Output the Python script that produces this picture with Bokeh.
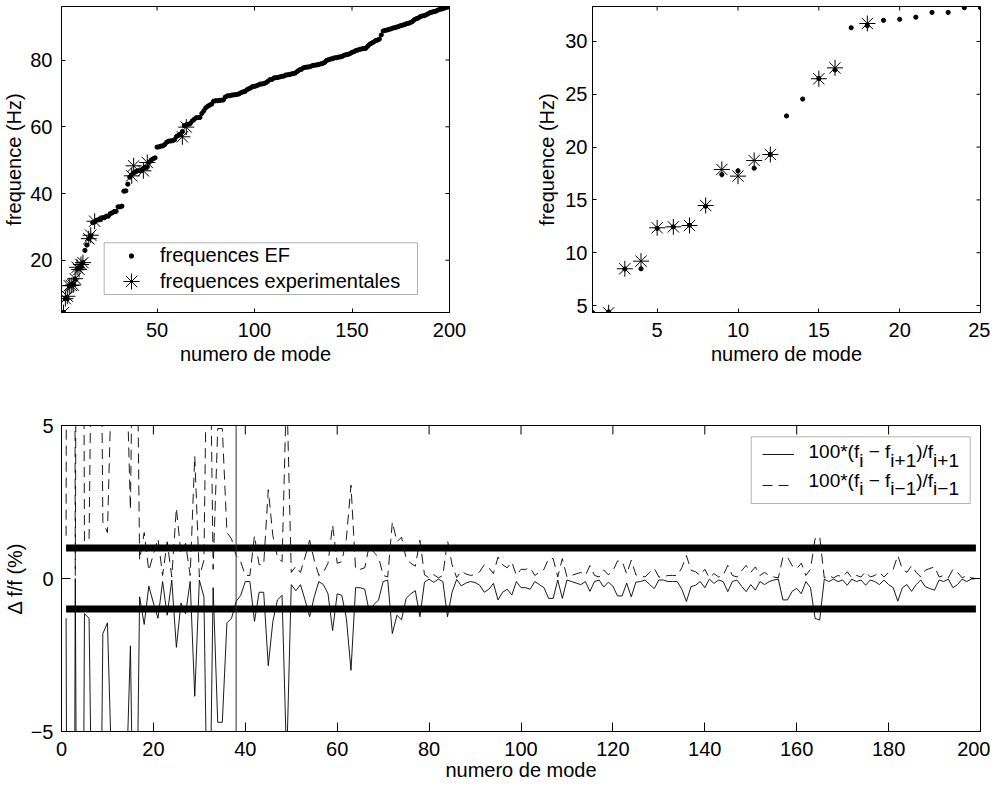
from bokeh.plotting import figure
from bokeh.models import (Range1d, FixedTicker, Legend, LegendItem,
                          Span, Label, BoxAnnotation)
from bokeh.layouts import column, row
from bokeh.embed import file_html
from bokeh.resources import INLINE

FONT = "Liberation Sans"

# ---------------- data ----------------
ef_modes = list(range(1, 201))
ef_freq = [
    4.34, 4.40, 8.46, 8.48, 12.30, 12.45, 12.60, 14.40, 17.40, 17.75,
    18.00, 19.30, 22.95, 24.55, 26.50, 27.30, 31.30, 31.50, 32.00, 32.10,
    32.30, 32.75, 32.75, 33.20, 33.20, 33.95, 34.20, 34.60, 34.65, 36.00,
    36.00, 36.20, 40.70, 40.80, 42.80, 44.90, 45.60, 46.20, 46.50, 46.80,
    46.85, 46.90, 47.55, 47.75, 47.95, 49.35, 50.05, 50.40, 50.70, 53.90,
    54.00, 54.20, 54.30, 54.70, 55.40, 55.70, 55.75, 55.85, 56.15, 57.10,
    57.45, 57.75, 58.55, 60.35, 60.60, 60.75, 60.95, 61.70, 62.20, 62.70,
    62.75, 62.80, 64.00, 64.80, 65.70, 66.15, 66.50, 66.80, 67.65, 67.80,
    67.80, 67.90, 67.95, 68.05, 68.90, 69.25, 69.30, 69.45, 69.55, 69.60,
    69.70, 69.85, 70.20, 70.45, 70.55, 71.05, 71.40, 71.65, 72.05, 72.10,
    72.30, 72.55, 72.80, 72.85, 73.00, 73.25, 73.70, 74.15, 74.20, 74.65,
    74.70, 74.80, 74.95, 75.10, 75.20, 75.50, 75.60, 75.65, 75.85, 75.95,
    76.15, 76.60, 77.05, 77.20, 77.65, 77.80, 77.90, 77.95, 78.15, 78.40,
    78.45, 78.55, 78.70, 78.85, 79.00, 79.30, 79.90, 80.10, 80.30, 80.40,
    80.65, 80.70, 80.85, 80.95, 81.10, 81.45, 81.60, 81.70, 81.95, 82.30,
    82.50, 82.85, 83.00, 83.20, 83.35, 83.45, 83.50, 84.10, 84.70, 85.05,
    85.35, 85.80, 85.95, 86.25, 87.50, 88.70, 88.90, 89.00, 89.20, 89.35,
    89.60, 89.70, 89.90, 90.05, 90.35, 90.45, 90.65, 90.90, 91.00, 91.25,
    91.55, 92.10, 92.40, 92.60, 93.00, 93.20, 93.30, 93.55, 93.85, 94.20,
    94.35, 94.55, 94.65, 94.95, 95.20, 95.30, 95.50, 95.70, 95.90, 96.00,
]

exp_modes = [2, 3, 4, 5, 6, 7, 8, 9, 10, 11, 12, 15, 16, 18, 37, 38, 43, 45, 63, 65]
exp_freq = [4.31, 8.48, 9.20, 12.36, 12.45, 12.58, 14.47, 17.88, 17.25, 18.73,
            19.30, 26.47, 27.50, 31.70, 45.30, 48.30, 46.80, 49.30, 57.00, 59.90]

# 100*(f_i - f_{i+1})/f_{i+1}
next_modes = list(range(1, 201))
rel_next = [
    -1.3, -48.0, 0.0, -31.0, -1.15, -1.3, -12.5, -17.0, -1.8, -1.45,
    -6.7, -16.0, -6.5, -7.2, -2.2, -12.8, -0.6, -1.5, -0.25, -0.8,
    -1.3, -0.1, -1.2, -0.05, -2.25, -0.8, -1.15, -0.1, -3.85, -0.05,
    -0.6, -11.0, -0.3, -4.7, -4.7, -1.45, -1.3, -0.75, -0.55, -0.1,
    -0.1, -1.4, -0.45, -0.45, -2.85, -1.4, -0.7, -0.55, -6.0, -0.2,
    -0.4, -0.2, -0.7, -1.25, -0.6, -0.1, -0.2, -0.5, -1.7, -0.5,
    -0.55, -1.3, -3.0, -0.3, -0.3, -0.35, -1.1, -0.85, -0.7, -0.1,
    -0.05, -1.8, -1.2, -1.35, -0.65, -0.5, -0.4, -1.25, -0.12, -0.02,
    -0.13, -0.02, -0.1, -1.25, -0.45, -0.03, -0.24, -0.15, -0.1, -0.13,
    -0.22, -0.45, -0.35, -0.16, -0.7, -0.45, -0.35, -0.54, -0.1, -0.3,
    -0.3, -0.35, -0.1, -0.2, -0.3, -0.65, -0.65, -0.05, -0.65, -0.05,
    -0.1, -0.15, -0.2, -0.1, -0.42, -0.1, -0.05, -0.28, -0.12, -0.25,
    -0.57, -0.57, -0.15, -0.6, -0.12, -0.1, -0.05, -0.2, -0.33, -0.05,
    -0.05, -0.1, -0.1, -0.1, -0.35, -0.75, -0.27, -0.22, -0.1, -0.3,
    -0.02, -0.16, -0.05, -0.1, -0.43, -0.1, -0.05, -0.25, -0.43, -0.2,
    -0.38, -0.1, -0.2, -0.1, -0.05, -0.02, -0.7, -0.7, -0.42, -0.32,
    -0.5, -0.1, -0.3, -1.3, -1.36, -0.02, -0.1, -0.02, -0.1, -0.05,
    -0.22, -0.02, -0.1, -0.05, -0.22, -0.05, -0.1, -0.2, -0.05, -0.2,
    -0.3, -0.74, -0.3, -0.2, -0.42, -0.2, -0.05, -0.27, -0.33, -0.38,
    -0.05, -0.1, -0.02, -0.3, -0.2, -0.02, -0.1, -0.02, 0.0, 0.0,
]

# 100*(f_i - f_{i-1})/f_{i-1}
prev_modes = list(range(1, 200))
rel_prev = [
    1.4, 92.0, 0.1, 45.0, 1.2, 1.3, 14.3, 20.8, 1.85, 1.5,
    7.2, 19.0, 7.0, 7.8, 2.25, 14.7, 0.6, 1.5, 0.25, 0.8,
    1.3, 0.1, 1.2, 0.05, 2.3, 0.8, 1.15, 0.1, 4.0, 0.05,
    0.6, 12.4, 0.3, 4.9, 4.9, 1.5, 1.3, 0.75, 0.55, 0.1,
    0.1, 1.4, 0.45, 0.45, 2.9, 1.4, 0.7, 0.55, 6.4, 0.2,
    0.4, 0.2, 0.7, 1.25, 0.6, 0.1, 0.2, 0.5, 1.75, 0.5,
    0.55, 1.3, 3.05, 0.3, 0.3, 0.35, 1.1, 0.85, 0.7, 0.1,
    0.05, 1.85, 1.2, 1.35, 0.65, 0.5, 0.4, 1.25, 0.12, 0.02,
    0.13, 0.02, 0.1, 1.25, 0.45, 0.03, 0.24, 0.15, 0.1, 0.13,
    0.22, 0.45, 0.35, 0.16, 0.7, 0.45, 0.35, 0.54, 0.1, 0.3,
    0.3, 0.35, 0.1, 0.2, 0.3, 0.65, 0.65, 0.05, 0.65, 0.05,
    0.1, 0.15, 0.2, 0.1, 0.42, 0.1, 0.05, 0.28, 0.12, 0.25,
    0.57, 0.57, 0.15, 0.6, 0.12, 0.1, 0.05, 0.2, 0.33, 0.05,
    0.05, 0.1, 0.1, 0.1, 0.35, 0.75, 0.27, 0.22, 0.1, 0.3,
    0.02, 0.16, 0.05, 0.1, 0.43, 0.1, 0.05, 0.25, 0.43, 0.2,
    0.38, 0.1, 0.2, 0.1, 0.05, 0.02, 0.7, 0.7, 0.42, 0.32,
    0.5, 0.1, 0.3, 1.3, 1.38, 0.02, 0.1, 0.02, 0.1, 0.05,
    0.22, 0.02, 0.1, 0.05, 0.22, 0.05, 0.1, 0.2, 0.05, 0.2,
    0.3, 0.75, 0.3, 0.2, 0.42, 0.2, 0.05, 0.27, 0.33, 0.38,
    0.05, 0.1, 0.02, 0.3, 0.2, 0.02, 0.1, 0.02, 0.0,
]

threshold = 1.0
marked_mode = 38

xticks_left = [50, 100, 150, 200]
yticks_left = [20, 40, 60, 80]
xticks_right = [5, 10, 15, 20, 25]
yticks_right = [5, 10, 15, 20, 25, 30]
xticks_bottom = list(range(0, 201, 20))
yticks_bottom = [-5, 0, 5]


# ---------------- helpers ----------------
class Frame:
    def __init__(self, xr, yr, fw, fh):
        self.x0, self.x1 = xr
        self.y0, self.y1 = yr
        self.fw, self.fh = fw, fh

    def x(self, px):  # pixels from frame left -> data
        return self.x0 + px * (self.x1 - self.x0) / self.fw

    def y(self, py):  # pixels from frame bottom -> data
        return self.y0 + py * (self.y1 - self.y0) / self.fh

    def dx(self, px):
        return px * (self.x1 - self.x0) / self.fw

    def dy(self, py):
        return py * (self.y1 - self.y0) / self.fh


def style_axis(ax, ticks, tick_len, label, label_standoff, title_standoff):
    ax.ticker = FixedTicker(ticks=ticks)
    ax.major_tick_in = tick_len
    ax.major_tick_out = 0
    ax.minor_tick_line_color = None
    ax.axis_line_color = "black"
    ax.axis_line_width = 1
    ax.major_tick_line_color = "black"
    ax.major_label_text_font = FONT
    ax.major_label_text_color = "black"
    ax.major_label_text_font_size = "20px"
    ax.major_label_standoff = label_standoff
    ax.axis_label = label
    ax.axis_label_text_font = FONT
    ax.axis_label_text_font_size = "20px"
    ax.axis_label_text_font_style = "normal"
    ax.axis_label_text_color = "black"
    ax.axis_label_standoff = title_standoff


def make_fig(fr, bl, br, bt, bb):
    p = figure(frame_width=fr.fw, frame_height=fr.fh,
               x_range=Range1d(fr.x0, fr.x1), y_range=Range1d(fr.y0, fr.y1),
               min_border_left=bl, min_border_right=br, min_border_top=bt,
               min_border_bottom=bb, output_backend="svg", toolbar_location=None)
    p.xgrid.visible = False
    p.ygrid.visible = False
    p.outline_line_color = "black"
    p.outline_line_width = 1
    p.background_fill_color = "white"
    p.border_fill_color = "white"
    return p


def mirror_ticks(p, fr, xt, yt, tick_len):
    # inward tick marks on the top and right edges (box on)
    xs = [t for t in xt if fr.x0 <= t <= fr.x1]
    ys = [t for t in yt if fr.y0 <= t <= fr.y1]
    p.segment(x0=xs, y0=[fr.y1] * len(xs), x1=xs,
              y1=[fr.y1 - fr.dy(tick_len)] * len(xs),
              line_color="black", line_width=1)
    p.segment(x0=[fr.x1] * len(ys), y0=ys, x1=[fr.x1 - fr.dx(tick_len)] * len(ys),
              y1=ys, line_color="black", line_width=1)


# ---------------- top-left ----------------
F1 = Frame((1, 200), (4.34, 96.05), 388, 306)
p1 = make_fig(F1, 55, 49, 6, 64)
style_axis(p1.xaxis[0], xticks_left, 4, "numero de mode", 10, 3)
style_axis(p1.yaxis[0], yticks_left, 4, "frequence (Hz)", 9, 2)
mirror_ticks(p1, F1, xticks_left, yticks_left, 4)
r_ef = p1.scatter(ef_modes, ef_freq, marker="circle", size=4.2,
                  fill_color="black", line_color="black")
r_exp = p1.scatter(exp_modes, exp_freq, marker="asterisk", size=16,
                   line_color="black", line_width=1)
# legend frame
p1.add_layout(BoxAnnotation(left=F1.x(42.7), right=F1.x(356), bottom=F1.y(18),
                            top=F1.y(69.7), fill_color="white", fill_alpha=1.0,
                            line_color="black", line_width=1))
leg_common = dict(padding=0, spacing=0, margin=0, glyph_width=48,
                  label_standoff=5, label_text_font=FONT,
                  label_text_font_size="20px", label_text_color="black",
                  border_line_color=None, background_fill_alpha=0.0)
p1.add_layout(Legend(items=[LegendItem(label="frequences EF", renderers=[r_ef])],
                     location=(46, 45), glyph_height=11, label_height=20, **leg_common))
p1.add_layout(Legend(items=[LegendItem(label="frequences experimentales",
                                       renderers=[r_exp])],
                     location=(46, 11), glyph_height=40, label_height=20, **leg_common))

# ---------------- top-right ----------------
F2 = Frame((1, 25), (4.34, 33.31), 388, 306)
p2 = make_fig(F2, 94, 10, 6, 64)
style_axis(p2.xaxis[0], xticks_right, 4, "numero de mode", 10, 3)
style_axis(p2.yaxis[0], yticks_right, 4, "frequence (Hz)", 5, 4)
mirror_ticks(p2, F2, xticks_right, yticks_right, 4)
p2.scatter(ef_modes, ef_freq, marker="circle", size=4.2,
           fill_color="black", line_color="black")
p2.scatter(exp_modes, exp_freq, marker="asterisk", size=16,
           line_color="black", line_width=1)

# ---------------- bottom ----------------
F3 = Frame((0, 200), (-5, 5), 919, 306)
p3 = make_fig(F3, 55, 10, 49, 54)
style_axis(p3.xaxis[0], xticks_bottom, 9, "numero de mode", 10, 0)
style_axis(p3.yaxis[0], yticks_bottom, 9, "\u0394 f/f (%)", 8, 2)
mirror_ticks(p3, F3, xticks_bottom, yticks_bottom, 9)

r_next = p3.line(next_modes, rel_next, line_color="black", line_width=0.9)
r_prev = p3.line(prev_modes, rel_prev, line_color="black", line_width=0.9,
                 line_dash="10 6")
lim_x = [prev_modes[0], prev_modes[-1]]
p3.line(lim_x, [threshold, threshold], line_color="black", line_width=7)
p3.line(lim_x, [-threshold, -threshold], line_color="black", line_width=7)
p3.add_layout(Span(location=marked_mode, dimension="height",
                   line_color="#333333", line_width=1))

p3.add_layout(BoxAnnotation(left=F3.x(689.7), right=F3.x(908.7), bottom=F3.y(228),
                            top=F3.y(294.7), fill_color="white", fill_alpha=1.0,
                            line_color="black", line_width=1))
leg3_common = dict(padding=0, spacing=0, margin=0, glyph_width=32, glyph_height=20,
                   label_standoff=10, label_height=20, label_text_font=FONT,
                   label_text_font_size="19px", border_line_color=None,
                   background_fill_alpha=0.0)
p3.add_layout(Legend(items=[LegendItem(label=" ", renderers=[r_next])],
                     location=(701, 267), **leg3_common))
p3.add_layout(Legend(items=[LegendItem(label=" ", renderers=[r_prev])],
                     location=(701, 236), **leg3_common))

# legend texts with lowered subscripts
ARIAL = {'0': 556, '1': 556, '*': 389, '(': 333, ')': 333, '/': 278, 'f': 278,
         'i': 222, ' ': 278, '\u2212': 584, '+': 584}
FS = 19


def tw(s):
    return sum(ARIAL[c] for c in s) * FS / 1000.0


rows = [
    (279.7, 271.3, [("100*(f", 0), ("i", 1), (" \u2212 f", 0), ("i+1", 1),
                    (")/f", 0), ("i+1", 1)]),
    (251.3, 243.0, [("100*(f", 0), ("i", 1), (" \u2212 f", 0), ("i\u22121", 1),
                    (")/f", 0), ("i\u22121", 1)]),
]
for base, sub, pieces in rows:
    xpx = 747.0
    for txt, is_sub in pieces:
        lead = len(txt) - len(txt.lstrip(" "))
        xpx += tw(txt[:lead])
        body = txt[lead:]
        p3.add_layout(Label(x=F3.x(xpx), y=F3.y(sub if is_sub else base),
                            text=body, text_font=FONT, text_font_size=f"{FS}px",
                            text_color="black", text_baseline="alphabetic",
                            text_align="left"))
        xpx += tw(body)

layout = column(row(p1, p2), p3)
open("out.html", "w").write(file_html(layout, INLINE))
